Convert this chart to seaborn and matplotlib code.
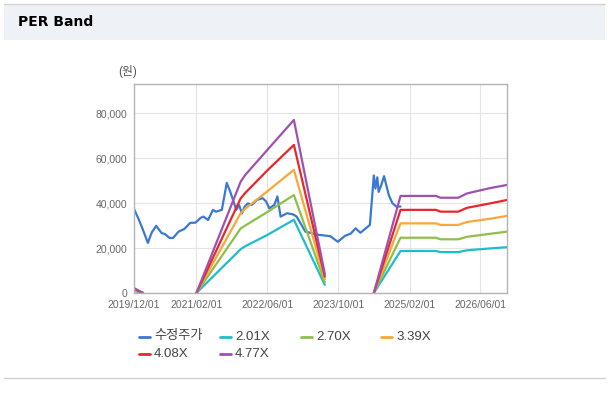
import pandas as pd
import numpy as np
import matplotlib.pyplot as plt
import matplotlib.dates as mdates
import seaborn as sns
from matplotlib.lines import Line2D
from matplotlib.patches import Rectangle
from matplotlib.ticker import FuncFormatter

sns.set_style("white")
plt.rcParams['font.family'] = ['Liberation Sans', 'Noto Sans CJK KR']

# adjusted price (수정주가)
price_dates = ['2019-12-01', '2020-01-01', '2020-02-01', '2020-03-05', '2020-04-01', '2020-05-01',
               '2020-06-07', '2020-07-01', '2020-08-01', '2020-08-25', '2020-10-01', '2020-11-10',
               '2020-12-20', '2021-01-25', '2021-03-01', '2021-03-20', '2021-04-22', '2021-05-25',
               '2021-06-15', '2021-07-25', '2021-08-28', '2021-09-20', '2021-10-10', '2021-11-01',
               '2021-11-20', '2021-12-10', '2021-12-28', '2022-01-20', '2022-02-15', '2022-03-22',
               '2022-05-01', '2022-05-25', '2022-06-15', '2022-07-20', '2022-08-10', '2022-09-01',
               '2022-10-15', '2022-11-25', '2022-12-20', '2023-01-15', '2023-02-18', '2023-03-22',
               '2023-05-07', '2023-08-07', '2023-09-28', '2023-11-18', '2023-12-25', '2024-01-28',
               '2024-03-01', '2024-05-05', '2024-06-01', '2024-06-12', '2024-06-25', '2024-07-04',
               '2024-07-22', '2024-08-10', '2024-09-12', '2024-10-06', '2024-11-03', '2024-12-01']
price_values = [37400, 33000, 28000, 22300, 27000, 29900,
                26700, 26200, 24500, 24500, 27300, 28500,
                31200, 31300, 33400, 34000, 32500, 37000,
                36200, 37000, 49000, 45200, 41400, 37000,
                39200, 35400, 38400, 39900, 39200, 41400,
                42200, 40700, 37700, 39200, 43000, 34000,
                35500, 35000, 34000, 31100, 27300, 26800,
                26000, 25300, 22800, 25500, 26400, 28800,
                26800, 30300, 52300, 46500, 51500, 45000,
                48000, 52000, 43500, 40000, 38400, 38500]

# PER band lines
band_dates = ['2019-12-01', '2020-02-01', '2020-03-01', '2021-02-01', '2021-12-01', '2022-01-01',
              '2022-06-01', '2022-12-01', '2023-07-01', '2023-08-01', '2024-06-01', '2024-12-01',
              '2025-08-01', '2025-09-01', '2026-01-01', '2026-03-01', '2026-08-01', '2026-12-01']
band_201 = [900, 0, np.nan, 0, 19500, 20800, 25800, 32600, 3600, np.nan, 0, 18700,
            18700, 18200, 18200, 19000, 19800, 20400]
band_270 = [1250, 0, np.nan, 0, 28700, 30000, 36000, 43600, 4800, np.nan, 0, 24600,
            24600, 23900, 23900, 25000, 26300, 27300]
band_339 = [1600, 0, np.nan, 0, 35500, 37500, 45200, 54800, 6100, np.nan, 0, 31000,
            31000, 30300, 30300, 31600, 33000, 34300]
band_408 = [1900, 0, np.nan, 0, 42100, 44500, 54500, 65900, 7300, np.nan, 0, 37000,
            37000, 36200, 36200, 37900, 39800, 41400]
band_477 = [2200, 0, np.nan, 0, 49500, 52500, 63600, 77000, 8500, np.nan, 0, 43200,
            43200, 42400, 42400, 44300, 46600, 48100]

band_labels = ['2.01X', '2.70X', '3.39X', '4.08X', '4.77X']
band_values = [band_201, band_270, band_339, band_408, band_477]
price_label = '수정주가'
price_color = '#3a78d6'
band_colors = ['#1fbccc', '#8cc04b', '#f8a73a', '#e8262b', '#a050b0']

x_ticks = ['2019-12-01', '2021-02-01', '2022-06-01', '2023-10-01', '2025-02-01', '2026-06-01']

# long table for bands, split at gaps
rows = []
for lab, vals in zip(band_labels, band_values):
    seg = 0
    for d, v in zip(band_dates, vals):
        if np.isnan(v):
            seg += 1
            continue
        rows.append({'date': pd.Timestamp(d), 'value': v, 'band': lab, 'seg': seg})
bands = pd.DataFrame(rows)
price = pd.DataFrame({'date': pd.to_datetime(price_dates), 'value': price_values})

fig = plt.figure(figsize=(6.15, 3.98), dpi=100)
fig.patch.set_facecolor('white')

# header strip
fig.add_artist(Rectangle((0.006, 0.90), 0.978, 0.088, transform=fig.transFigure,
                         facecolor='#eef2f7', edgecolor='none'))
fig.add_artist(Line2D([0.006, 0.984], [0.99, 0.99], color='#d4d4d4', lw=1))
fig.add_artist(Line2D([0.006, 0.984], [0.05, 0.05], color='#d0d0d0', lw=1))
fig.text(0.029, 0.944, 'PER Band', fontsize=10, fontweight='bold', va='center', color='black',
         family=['DejaVu Sans'])

ax = fig.add_axes([0.2179, 0.2638, 0.6065, 0.5251])
sns.lineplot(data=price, x='date', y='value', color=price_color, lw=1.6, ax=ax, legend=False)
sns.lineplot(data=bands, x='date', y='value', hue='band', units='seg', estimator=None,
             palette=dict(zip(band_labels, band_colors)), lw=1.6, ax=ax, legend=False)

ax.set_xlim(pd.Timestamp('2019-12-01'), pd.Timestamp('2026-12-01'))
ax.set_ylim(0, 93000)
ax.set_yticks([0, 20000, 40000, 60000, 80000])
ax.yaxis.set_major_formatter(FuncFormatter(lambda v, p: f'{int(v):,}'))
ax.set_xticks(pd.to_datetime(x_ticks))
ax.xaxis.set_major_formatter(mdates.DateFormatter('%Y/%m/%d'))
ax.set_xlabel('')
ax.set_ylabel('')
ax.grid(True, color='#e4e4e4', lw=0.8)
for s in ax.spines.values():
    s.set_color('#b4b4b4')
    s.set_linewidth(1)
ax.tick_params(axis='both', length=3, color='#999999', labelsize=7.5, labelcolor='#666666', pad=2)

fig.text(128 / 615, 1 - 72 / 398, '(원)', fontsize=8.5, color='#555555', ha='center', va='center')

# legend
leg_items = [(price_label, price_color, 139, 336.5), ('2.01X', band_colors[0], 220, 336.5),
             ('2.70X', band_colors[1], 301, 336.5), ('3.39X', band_colors[2], 381, 336.5),
             ('4.08X', band_colors[3], 139, 354), ('4.77X', band_colors[4], 220, 354)]
for lab, col, x0, y0 in leg_items:
    yf = 1 - y0 / 398
    fig.add_artist(Line2D([x0 / 615, (x0 + 11) / 615], [yf, yf], color=col, lw=2))
    fig.text((x0 + 15) / 615, yf, lab, fontsize=9.5, color='#444444', va='center', ha='left')

fig.savefig('out.png', dpi=100)
